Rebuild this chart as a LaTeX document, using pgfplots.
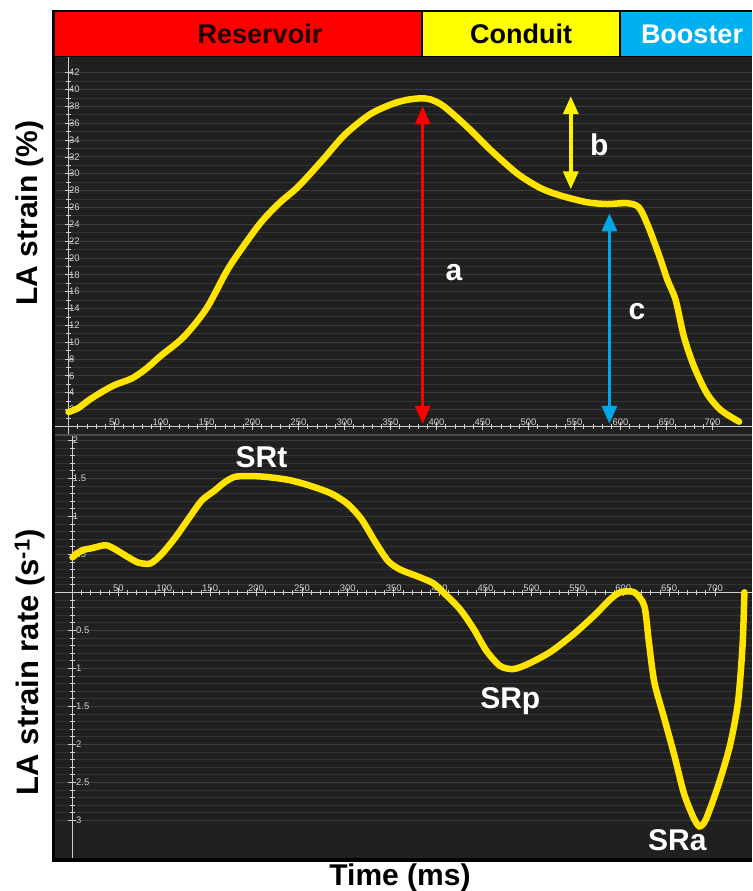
\documentclass[border=0pt]{standalone}
\usepackage{pgfplots}
\pgfplotsset{compat=1.18}
\usepackage{fontspec}
\setmainfont{Liberation Sans}
\usetikzlibrary{arrows.meta}
\definecolor{bgdark}{HTML}{202020}
\definecolor{gridc}{HTML}{333333}
\definecolor{gridm}{HTML}{3C3C3C}
\definecolor{tickc}{HTML}{CFCFCF}
\definecolor{curve}{HTML}{FFE400}
\definecolor{hred}{HTML}{FF0000}
\definecolor{hyel}{HTML}{FFFF00}
\definecolor{hblue}{HTML}{00B0F0}
\definecolor{arblue}{HTML}{00A6E6}
\definecolor{aryel}{HTML}{FFF200}

\pgfplotstableread{
t s
0 1.7
5 1.9
11 2.2
22 3.1
35 4.0
50 4.9
69 5.7
85 6.9
100 8.35
125 10.6
150 14.0
174 18.8
200 22.9
213 24.7
230 26.6
250 28.5
276 31.6
300 34.6
327 37.0
350 38.2
367 38.75
383 38.95
394 38.8
408 38.0
433 35.6
459 32.8
488 30.0
513 28.3
535 27.4
564 26.6
586 26.4
607 26.5
620 26.0
630 23.8
642 20.3
651 17.4
660 15.0
669 10.65
680 7.1
694 3.9
709 1.94
729 0.55
}\strain

\pgfplotstableread{
t r
0 0.46
10 0.55
21 0.58
36 0.62
46 0.57
61 0.46
72 0.39
85 0.38
97 0.50
112 0.72
126 0.96
141 1.21
155 1.34
166 1.45
177 1.52
192 1.53
210 1.52
235 1.48
257 1.41
282 1.30
300 1.16
315 0.96
330 0.66
344 0.41
357 0.30
378 0.20
393 0.12
404 0.0
422 -0.22
437 -0.48
451 -0.77
466 -0.97
480 -1.01
495 -0.95
520 -0.79
546 -0.55
568 -0.31
586 -0.09
597 0.0
612 0.0
623 -0.18
628 -0.66
634 -1.19
645 -1.67
656 -2.16
666 -2.64
676 -2.95
683 -3.08
690 -2.99
703 -2.56
716 -2.03
725 -1.45
730 -0.70
732 0.0
}\rate

\pgfplotsset{
  panel/.style={
    scale only axis, anchor=south west, width=697pt,
    axis background/.style={fill=bgdark},
    axis lines=middle,
    axis line style={draw=tickc, line width=0.8pt, -},
    tick style={draw=tickc, line width=0.7pt},
    tick align=center,
    major tick length=8pt, minor tick length=4.5pt,
    ticklabel style={font=\fontsize{9.5}{10}\selectfont, text=tickc},
    /pgf/number format/assume math mode=true,
    xtick={0,50,...,700},
    minor x tick num=4,
    xticklabel style={anchor=south, yshift=1pt},
    yticklabel style={anchor=west, xshift=1pt},
    ymajorgrids, yminorgrids,
    major grid style={draw=gridm, line width=0.8pt},
    minor grid style={draw=gridc, line width=0.8pt},
    no marks,
  },
}
\tikzset{lbl/.style={font=\fontsize{30}{34}\selectfont\bfseries, text=white},
  dbl/.style={line width=3.5pt, >={Triangle[width=15pt,length=18pt]}, <->}}

\begin{document}
\begin{tikzpicture}
\path[use as bounding box] (0,0) rectangle (752pt,891pt);
\fill[black] (52pt,29pt) rectangle (752pt,881pt);
% header
\fill[hred] (55pt,835pt) rectangle (421pt,879pt);
\fill[hyel] (423pt,835pt) rectangle (619pt,879pt);
\fill[hblue] (621pt,835pt) rectangle (752pt,879pt);
\node[font=\fontsize{27}{30}\selectfont\bfseries, text={rgb,255:red,30;green,0;blue,0}] at (260pt,857pt) {Reservoir};
\node[font=\fontsize{27}{30}\selectfont\bfseries, text=black] at (521pt,857pt) {Conduit};
\node[font=\fontsize{27}{30}\selectfont\bfseries, text=white] at (692pt,857pt) {Booster};
\fill[gray!60!black] (55pt,455pt) rectangle (752pt,457pt);

% top panel
\begin{axis}[panel, at={(55pt,457pt)}, height=377pt,
  xmin=-14.7, xmax=743, ymin=-0.91, ymax=43.86,
  ytick={0,2,...,42}, minor y tick num=1]
\addplot[draw=curve, line width=6.5pt, smooth, tension=0.5, line cap=round] table[x=t,y=s] {\strain};
\addplot[draw=hred, dbl] coordinates {(385,0.3) (385,38.0)};
\addplot[draw=aryel, dbl] coordinates {(546,28.15) (546,39.2)};
\addplot[draw=arblue, dbl] coordinates {(588,0.3) (588,25.3)};
\node[lbl] at (axis cs:419,18.2) {a};
\node[lbl] at (axis cs:577,33.4) {b};
\node[lbl] at (axis cs:618,13.6) {c};
\end{axis}

% bottom panel
\begin{axis}[panel, at={(55pt,33pt)}, height=422pt,
  xmin=-19, xmax=740.3, ymin=-3.496, ymax=2.057,
  ytick={-3,-2.5,...,2}, minor y tick num=4,
  yticklabel style={/pgf/number format/.cd, fixed, precision=1}]
\addplot[draw=curve, line width=6.5pt, smooth, tension=0.45, line cap=round] table[x=t,y=r] {\rate};
\node[lbl] at (axis cs:206,1.78) {SRt};
\node[lbl] at (axis cs:477,-1.43) {SRp};
\node[lbl] at (axis cs:659,-3.26) {SRa};
\end{axis}

% axis titles
\node[rotate=90, font=\fontsize{30}{34}\selectfont\bfseries] at (30pt,678pt) {LA strain (\%)};
\node[rotate=90, font=\fontsize{31}{35}\selectfont\bfseries] at (30pt,229pt) {LA strain rate (s\textsuperscript{-1})};
\node[font=\fontsize{30}{34}\selectfont\bfseries] at (400pt,13pt) {Time (ms)};
\end{tikzpicture}
\end{document}
